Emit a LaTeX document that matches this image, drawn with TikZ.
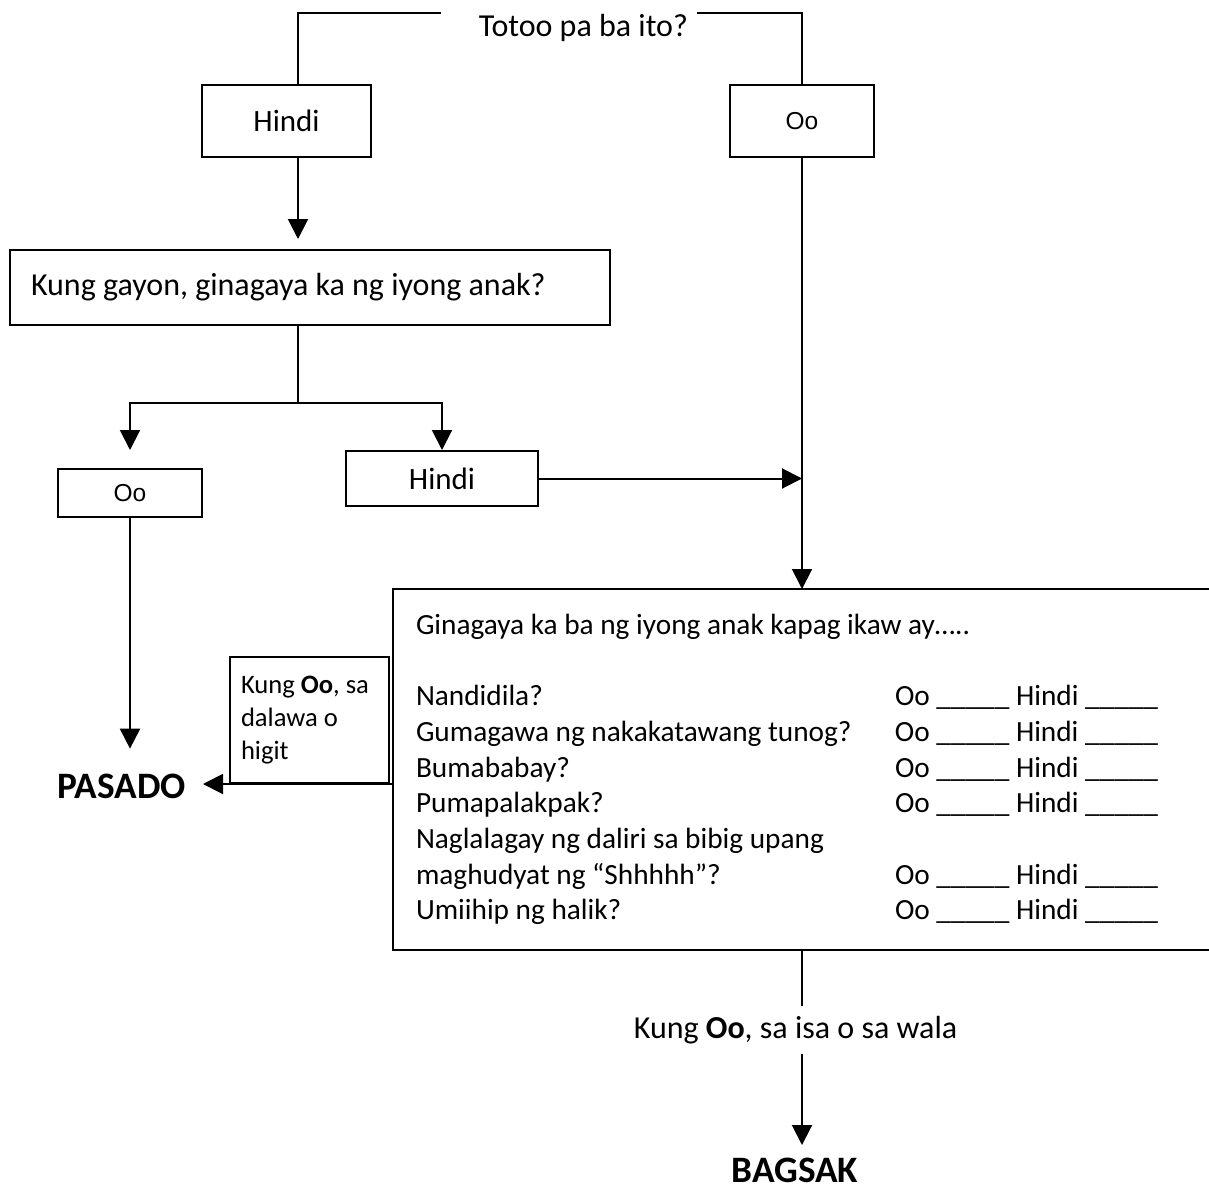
\documentclass[tikz,border=0pt]{standalone}
\usepackage{fontspec}
\setmainfont{Carlito}
\newfontfamily\arialfont{Liberation Sans}
\usetikzlibrary{arrows.meta}
\newcommand\answerrow[1]{\makebox[479pt][l]{#1}Oo \_\_\_\_\_ Hindi \_\_\_\_\_}

\begin{document}
\begin{tikzpicture}[x=1pt, y=-1pt, line width=2pt, line join=miter,
  >={Triangle[width=20pt,length=20pt]},
  box/.style={draw, line width=2pt, inner sep=0pt},
  bigfont/.style={font=\fontsize{32}{39}\selectfont},
  qfont/.style={font=\fontsize{29.3}{35.7}\selectfont},
  smallfont/.style={font=\fontsize{26.6}{33}\selectfont},
  hindifont/.style={font=\fontsize{31}{37}\selectfont},
  oofont/.style={font=\arialfont\fontsize{24.5}{29}\selectfont},
  result/.style={font=\bfseries\fontsize{37.3}{44}\selectfont, inner xsep=16pt, inner ysep=12pt}]
 \useasboundingbox (0,0) rectangle (1209,1199);
 \coordinate (colL) at (298,0);
 \coordinate (split) at (298,403);

 \node[bigfont, anchor=north, text width=238pt, align=flush right, inner xsep=8pt, inner ysep=0pt] (q1) at (569,13) {Totoo pa ba ito?};
 \node[box, hindifont, minimum width=169pt, minimum height=72pt] (hindi1) at (286.5,121) {Hindi};
 \node[box, oofont, minimum width=144pt, minimum height=72pt] (oo1) at (802,121) {Oo};
 \node[box, bigfont, minimum width=600pt, minimum height=75pt, text width=558pt, align=flush left, inner xsep=21pt] (ask) at (310,287.5) {Kung gayon, ginagaya ka ng iyong anak?};
 \node[box, oofont, minimum width=144pt, minimum height=48pt] (oo2) at (130,493) {Oo};
 \node[box, hindifont, minimum width=192pt, minimum height=55pt] (hindi2) at (442,478.5) {Hindi};
 \node[qfont, anchor=north west, text width=772pt, align=flush left, inner xsep=22pt, inner ysep=0pt, minimum height=359pt] (bigq) at (393,589) {Ginagaya ka ba ng iyong anak kapag ikaw ay…..\\[35.7pt]
  \answerrow{Nandidila?}\\
  \answerrow{Gumagawa ng nakakatawang tunog?}\\
  \answerrow{Bumababay?}\\
  \answerrow{Pumapalakpak?}\\
  Naglalagay ng daliri sa bibig upang\\
  \answerrow{maghudyat ng “Shhhhh”?}\\
  \answerrow{Umiihip ng halik?}};
 \node[box, smallfont, minimum width=159pt, minimum height=126pt, text width=137pt, align=flush left, inner xsep=11pt] (twoplus) at (309.5,720) {Kung \textbf{Oo}, sa\\ dalawa o\\ higit};
 \node[result, anchor=east] (pasado) at (203,786) {PASADO};
 \node[bigfont, inner ysep=9pt] (fewer) at (795.5,1030) {Kung \textbf{Oo}, sa isa o sa wala};
 \node[result, anchor=north] (bagsak) at (795,1145) {BAGSAK};

 \draw (bigq.north east) -- (bigq.north west) -- (bigq.south west) -- (bigq.south east);
 \draw (q1.north west) -| (hindi1.north -| colL) (q1.north east) -| (oo1.north);
 \draw[->, shorten >=10pt] (hindi1.south -| colL) -- (ask.north -| colL);
 \draw (ask.south -| colL) -- (split);
 \draw[->, shorten >=18pt] (split) -| (oo2.north);
 \draw[->] (split) -| (hindi2.north);
 \draw[->] (hindi2.east) -- (hindi2.east -| oo1);
 \draw[->] (oo1.south) -- (bigq.north -| oo1);
 \draw[->, shorten >=12pt] (oo2.south) -- (pasado.north -| oo2.south);
 \draw[->] (bigq.west |- twoplus.south) -- (pasado.east |- twoplus.south);
 \draw (bigq.south -| oo1) -- (fewer.north -| oo1);
 \draw[->] (fewer.south -| oo1) -- (bagsak.north -| oo1);
\end{tikzpicture}
\end{document}
